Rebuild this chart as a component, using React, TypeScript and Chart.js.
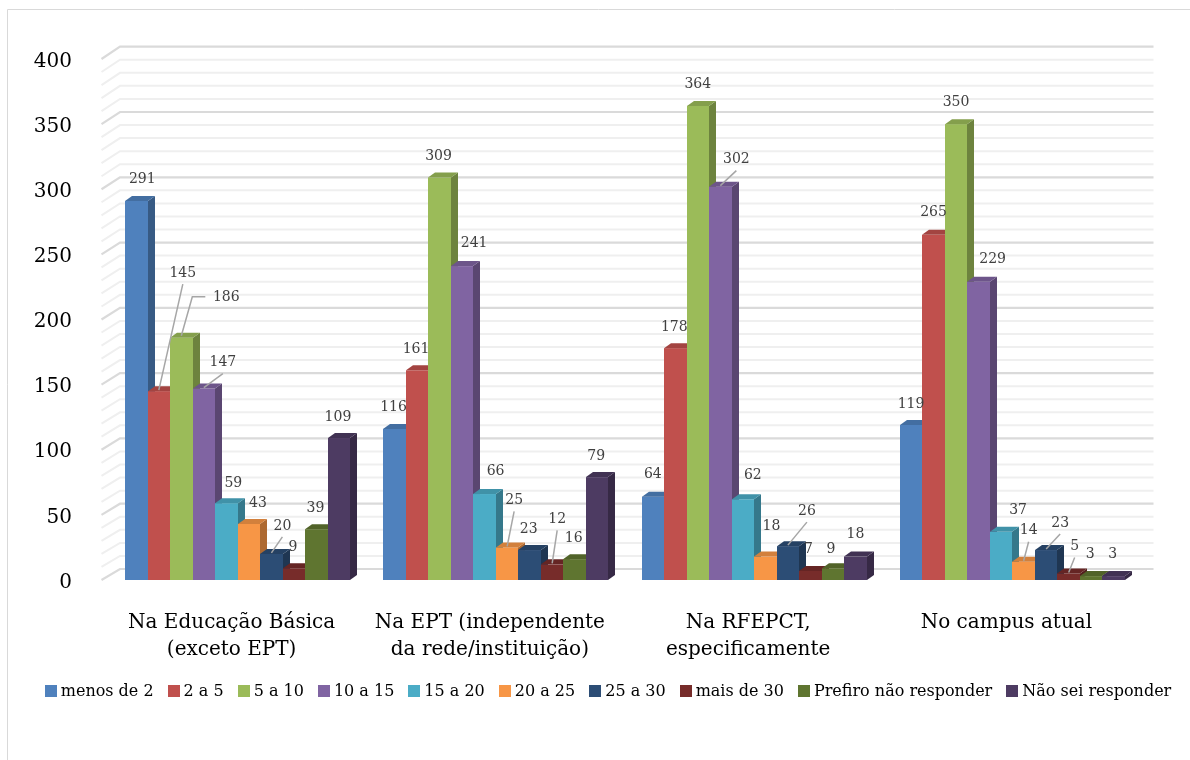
import React, { useEffect, useRef } from "react";
import { Chart, registerables } from "chart.js";

Chart.register(...registerables);

// Categories (multi-line axis labels)
const categories: string[][] = [
  ["Na Educação Básica", "(exceto EPT)"],
  ["Na EPT (independente", "da rede/instituição)"],
  ["Na RFEPCT,", "especificamente"],
  ["No campus atual"],
];

// Series names (years of experience)
const seriesNames = [
  "menos de 2",
  "2 a 5",
  "5 a 10",
  "10 a 15",
  "15 a 20",
  "20 a 25",
  "25 a 30",
  "mais de 30",
  "Prefiro não responder",
  "Não sei responder",
];

// Values per series, one per category
const menosDe2 = [291, 116, 64, 119];
const de2a5 = [145, 161, 178, 265];
const de5a10 = [186, 309, 364, 350];
const de10a15 = [147, 241, 302, 229];
const de15a20 = [59, 66, 62, 37];
const de20a25 = [43, 25, 18, 14];
const de25a30 = [20, 23, 26, 23];
const maisDe30 = [9, 12, 7, 5];
const prefiroNao = [39, 16, 9, 3];
const naoSei = [109, 79, 18, 3];

const seriesValues = [
  menosDe2, de2a5, de5a10, de10a15, de15a20,
  de20a25, de25a30, maisDe30, prefiroNao, naoSei,
];

const yMin = 0;
const yMax = 400;
const yStep = 50;
const gridStep = 10;

const seriesColors = [
  "#4F81BD", "#C0504D", "#9BBB59", "#8064A2", "#4BACC6",
  "#F79646", "#2C4D75", "#772C2A", "#5F7530", "#4D3B62",
];

// Value label placement relative to the bar's front top edge:
// [dx, dy, leader] where leader is "" (none), "L" (straight) or "E" (elbow)
type Shift = [number, number, string];
const labelShifts: Shift[][] = [
  [[6, -22, ""], [24, -118, "L"], [45, -40, "E"], [19, -26, "L"], [7, -20, ""],
   [9, -21, ""], [11, -28, "L"], [-1, -21, ""], [-1, -21, ""], [-1, -21, ""]],
  [[-1, -22, ""], [-1, -21, ""], [-1, -21, ""], [12, -23, ""], [11, -23, ""],
   [7, -47, "L"], [-1, -21, ""], [5, -45, "L"], [-1, -21, ""], [-1, -21, ""]],
  [[0, -22, ""], [-1, -21, ""], [0, -22, ""], [16, -27, "L"], [10, -24, ""],
   [6, -30, ""], [19, -35, "L"], [-2, -22, ""], [-2, -19, ""], [0, -22, ""]],
  [[0, -21, ""], [0, -22, ""], [0, -22, ""], [14, -22, ""], [17, -21, ""],
   [5, -31, "L"], [14, -27, "L"], [6, -27, "L"], [-1, -22, ""], [-1, -22, ""]],
];

const SERIF = '"DejaVu Serif", serif';
const depthX = 7;
const depthY = -5;

function shade(hex: string, f: number): string {
  const n = parseInt(hex.slice(1), 16);
  const r = Math.round(((n >> 16) & 255) * f);
  const g = Math.round(((n >> 8) & 255) * f);
  const b = Math.round((n & 255) * f);
  return `rgb(${r},${g},${b})`;
}

function poly(ctx: CanvasRenderingContext2D, pts: number[][], fill: string) {
  ctx.fillStyle = fill;
  ctx.beginPath();
  ctx.moveTo(pts[0][0], pts[0][1]);
  for (let k = 1; k < pts.length; k++) ctx.lineTo(pts[k][0], pts[k][1]);
  ctx.closePath();
  ctx.fill();
}

const columns3d = {
  id: "columns3d",
  beforeDatasetsDraw(chart: any) {
    const ctx: CanvasRenderingContext2D = chart.ctx;
    const { left, right } = chart.chartArea;
    const ys = chart.scales.y;

    ctx.save();
    // side wall + back wall gridlines
    for (let v = yMin; v <= yMax; v += gridStep) {
      const yf = ys.getPixelForValue(v);
      const yb = yf - (11 + (1.3 * v) / yMax);
      const major = v % yStep === 0;
      ctx.strokeStyle = major ? "#dadada" : "#efefef";
      ctx.lineWidth = major ? 2.2 : 2;
      ctx.beginPath();
      ctx.moveTo(left - 7, yf);
      ctx.lineTo(left + 11.5, yb);
      ctx.lineTo(right + 12, yb);
      ctx.stroke();
    }

    // columns, left to right inside each category so nearer faces overlap correctly
    const nCat = chart.data.labels.length;
    const nSer = chart.data.datasets.length;
    for (let j = 0; j < nCat; j++) {
      for (let i = 0; i < nSer; i++) {
        const el = chart.getDatasetMeta(i).data[j];
        const p = el.getProps(["x", "y", "base", "width"], true);
        const x0 = Math.round(p.x - p.width / 2);
        const x1 = Math.round(p.x + p.width / 2);
        const yt = p.y;
        const yb = p.base;
        const col = seriesColors[i];
        // front
        ctx.fillStyle = col;
        ctx.fillRect(x0, yt, x1 - x0, yb - yt);
        // right side
        poly(ctx, [[x1, yt], [x1 + depthX, yt + depthY], [x1 + depthX, yb + depthY], [x1, yb]], shade(col, 0.7));
        // top
        poly(ctx, [[x0, yt], [x1, yt], [x1 + depthX, yt + depthY], [x0 + depthX, yt + depthY]], shade(col, 0.85));
      }
    }
    ctx.restore();
    return false;
  },
  afterDraw(chart: any) {
    const ctx: CanvasRenderingContext2D = chart.ctx;
    ctx.save();

    // value labels with leader lines
    ctx.font = `14px ${SERIF}`;
    ctx.textAlign = "center";
    ctx.textBaseline = "middle";
    const nCat = chart.data.labels.length;
    const nSer = chart.data.datasets.length;
    for (let j = 0; j < nCat; j++) {
      for (let i = 0; i < nSer; i++) {
        const el = chart.getDatasetMeta(i).data[j];
        const p = el.getProps(["x", "y"], true);
        const [dx, dy, leader] = labelShifts[j][i];
        const lx = p.x + dx;
        const ly = p.y + dy;
        if (leader) {
          ctx.strokeStyle = "#a6a6a6";
          ctx.lineWidth = 1.5;
          ctx.beginPath();
          if (leader === "E") {
            ctx.moveTo(p.x, p.y - 2);
            ctx.lineTo(lx - 34, ly - 1);
            ctx.lineTo(lx - 21, ly - 1);
          } else {
            ctx.moveTo(p.x, p.y - 1);
            ctx.lineTo(lx, ly + 11);
          }
          ctx.stroke();
        }
        ctx.fillStyle = "#404040";
        ctx.fillText(String(chart.data.datasets[i].data[j]), lx, ly);
      }
    }

    // legend
    ctx.font = `16px ${SERIF}`;
    ctx.textAlign = "left";
    ctx.textBaseline = "middle";
    const box = 12;
    const boxGap = 4;
    const itemGap = 14;
    const widths = seriesNames.map((s) => ctx.measureText(s).width);
    const total = widths.reduce((a, w) => a + box + boxGap + w, 0) + itemGap * (seriesNames.length - 1);
    let x = 608 - total / 2;
    const cy = 691;
    seriesNames.forEach((name, i) => {
      ctx.fillStyle = seriesColors[i];
      ctx.fillRect(Math.round(x), cy - 6, box, box);
      ctx.fillStyle = "#000";
      ctx.fillText(name, x + box + boxGap, cy + 1);
      x += box + boxGap + widths[i] + itemGap;
    });

    // chart frame
    ctx.strokeStyle = "#d9d9d9";
    ctx.lineWidth = 1;
    ctx.beginPath();
    ctx.moveTo(7.5, 760);
    ctx.lineTo(7.5, 9.5);
    ctx.lineTo(1190, 9.5);
    ctx.stroke();

    ctx.restore();
  },
};

export default function App() {
  const canvasRef = useRef<HTMLCanvasElement>(null);

  useEffect(() => {
    const canvas = canvasRef.current;
    if (!canvas) return;
    const chart = new Chart(canvas, {
      type: "bar",
      data: {
        labels: categories as any,
        datasets: seriesNames.map((name, i) => ({
          label: name,
          data: seriesValues[i],
          backgroundColor: seriesColors[i],
        })),
      },
      options: {
        responsive: false,
        animation: false,
        devicePixelRatio: 1,
        layout: { padding: { top: 59, right: 48.5, left: 0, bottom: 0 } },
        datasets: { bar: { categoryPercentage: 0.872, barPercentage: 1 } },
        plugins: {
          legend: { display: false },
          tooltip: { enabled: false },
        },
        scales: {
          x: {
            grid: { display: false },
            border: { display: false },
            ticks: {
              font: { family: SERIF, size: 20, lineHeight: 1.35 },
              color: "#000",
              padding: 21,
              maxRotation: 0,
              autoSkip: false,
              labelOffset: -6,
            },
            afterFit: (s: any) => {
              s.height = 180;
            },
          },
          y: {
            min: yMin,
            max: yMax,
            grid: { display: false },
            border: { display: false },
            ticks: {
              stepSize: yStep,
              font: { family: SERIF, size: 20 },
              color: "#000",
              padding: 28.5,
              labelOffset: 2.5,
            },
            afterFit: (s: any) => {
              s.width = 108.5;
            },
          },
        },
      } as any,
      plugins: [columns3d],
    });
    return () => chart.destroy();
  }, []);

  return (
    <div style={{ position: "fixed", left: 0, top: 0, width: 1190, height: 760, background: "#fff" }}>
      <canvas ref={canvasRef} width={1190} height={760} style={{ display: "block" }} />
    </div>
  );
}
